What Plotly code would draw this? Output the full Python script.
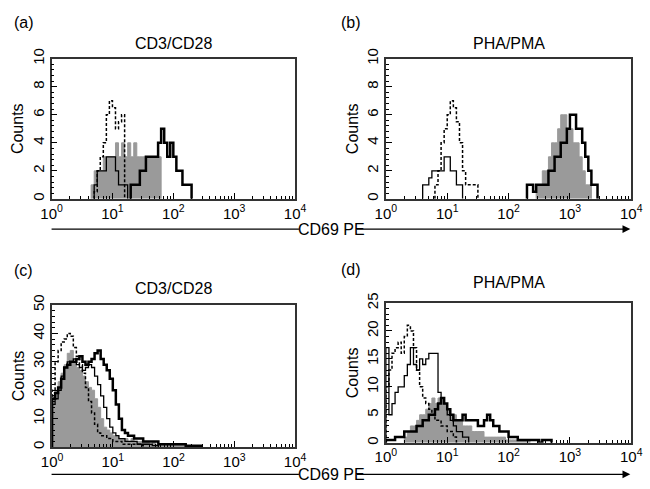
import plotly.graph_objects as go

W, H = 650, 489
BIN = 0.05  # width of one channel in log10 units

# ---------------- data (counts per channel, starting at log10 position) -------------
# panel (a) CD3/CD28
a_gray_start = 0.65
a_gray = [1, 2, 2, 2, 3, 3, 3, 3, 4, 3, 4, 3, 4, 3, 4, 3, 3, 3, 3, 3, 3, 3, 3, 0]
a_dash_start = 0.70
a_dash = [0.5, 2, 3, 4, 6, 7, 6.5, 5, 5.5, 6, 0]
a_thin_start = 0.70
a_thin = [1, 2, 2, 2, 3, 3, 3, 2, 1, 1, 1, 0]
a_thick_start = 1.30
a_thick = [1, 1, 1, 2, 2, 3, 3, 3, 3, 4, 5, 4, 3, 4, 3, 2, 2, 1, 1, 1, 0]

# panel (b) PHA/PMA
b_thin_start = 0.60
b_thin = [1, 1, 1.5, 2, 2, 2, 2, 3, 3, 2, 2, 1, 1, 0]
b_dash_start = 0.80
b_dash = [1, 2, 4, 5, 6, 7, 6.5, 5.5, 4, 2, 1, 1, 1, 1, 0]
b_gray_start = 2.45
b_gray = [1, 1, 2, 2, 3, 4, 4, 5, 6, 6, 5, 5, 4, 4, 3, 2, 1, 1, 0]
b_thick_start = 2.30
b_thick = [1, 1, 0.5, 1, 1, 1, 1, 2, 2, 3, 3, 4, 4, 5, 6, 6, 5, 5, 4, 3, 2, 1, 1, 0]

# panel (c) CD3/CD28
c_gray_start = 0.0
c_gray = [18, 20, 23, 26, 29, 33, 34, 30, 28, 27, 25, 23, 21, 20, 17, 14, 10, 7, 6, 5,
          4, 4, 3, 3, 3, 2, 3, 2, 2, 2, 2, 2, 1, 2, 1, 1, 1, 1, 1, 1, 1, 1, 1,
          0.5, 0.5, 0.5, 0.5, 0.5, 0]
c_dash_start = 0.0
c_dash = [20, 30, 34, 37, 38, 40, 39, 35, 32, 29, 26, 21, 16, 12, 8, 5, 4, 4, 3, 3,
          2, 2, 2, 1, 1, 1, 1, 1, 1, 0.5, 0]
c_thin_start = 0.0
c_thin = [15, 17, 20, 25, 28, 30, 30, 31, 29, 28, 27, 28, 29, 28, 25, 22, 18, 14, 10, 7,
          5, 4, 3, 3, 2, 2, 2, 2, 1, 1, 1, 1, 1, 0.5, 0.5, 0]
c_thick_start = 0.0
c_thick = [17, 19, 21, 24, 28, 29, 30, 30, 31, 32, 30, 29, 30, 31, 33, 34, 31, 29, 27, 24,
           20, 15, 10, 6, 5, 4, 4, 3, 3, 3, 2, 2, 2, 2, 2, 1, 1, 1, 1, 1, 1, 1, 1, 1,
           0.5, 0.5, 0.5, 0.5, 0.5, 0]

# panel (d) PHA/PMA
d_gray_start = 0.30
d_gray = [1, 2, 3, 3, 4, 5, 5, 6, 7, 8, 7, 8, 8, 7, 6, 5, 5, 4, 4, 3, 3, 3, 2, 2, 2, 2,
          1, 1, 1, 1, 1, 1, 1, 0.5, 0.5, 0.5, 0.5, 0.5, 0.5, 0.5, 0.5, 0]
d_dash_start = 0.0
d_dash = [10, 13, 16, 17, 18, 16, 19, 21, 20, 17, 13, 10, 8, 7, 6, 5, 4, 4, 3, 3, 2, 2, 1, 0]
d_thin_start = 0.0
d_thin = [17, 5, 7, 9, 10, 10, 12, 14, 17, 14, 13, 15, 14, 15, 16, 16, 16, 9, 8, 7, 5, 4,
          3, 2, 2, 1, 1, 0]
d_thick_start = 0.0
d_thick = [0.5, 0.5, 0.5, 1, 1, 1, 2, 2, 2, 2, 3, 3, 4, 4, 5, 5, 6, 7, 8, 7, 6, 5, 4, 4, 4,
           5, 4, 4, 4, 4, 3, 3, 4, 5, 4, 3, 3, 2, 2, 2, 1, 1, 1, 0.5, 0.5, 0.5, 0.5, 0.5,
           0.5, 0.5, 0, 0.5, 0.5, 0.5, 0]

panel_titles = ["CD3/CD28", "PHA/PMA", "CD3/CD28", "PHA/PMA"]
panel_letters = ["(a)", "(b)", "(c)", "(d)"]
y_max = [10, 10, 50, 25]
y_step = [2, 2, 10, 5]
x_tick_vals = [1, 10, 100, 1000, 10000]
x_tick_text = ["10<sup>0</sup>", "10<sup>1</sup>", "10<sup>2</sup>", "10<sup>3</sup>", "10<sup>4</sup>"]
x_axis_title = "CD69 PE"
y_axis_title = "Counts"

FONT = "Liberation Sans, Arial, Helvetica, sans-serif"
GRAY = "#9a9a9a"


def px_x(v):
    return v / W


def px_y(v):
    return 1 - v / H


def steps(start, counts):
    xs = [10 ** (start + BIN * i) for i in range(len(counts))]
    return [xs[0]] + xs, [0] + list(counts)


fig = go.Figure()

panels = [
    ("x", "y", (a_gray_start, a_gray), (a_dash_start, a_dash), (a_thin_start, a_thin), (a_thick_start, a_thick)),
    ("x2", "y2", (b_gray_start, b_gray), (b_dash_start, b_dash), (b_thin_start, b_thin), (b_thick_start, b_thick)),
    ("x3", "y3", (c_gray_start, c_gray), (c_dash_start, c_dash), (c_thin_start, c_thin), (c_thick_start, c_thick)),
    ("x4", "y4", (d_gray_start, d_gray), (d_dash_start, d_dash), (d_thin_start, d_thin), (d_thick_start, d_thick)),
]

for xa, ya, gray, dash, thin, thick in panels:
    gx, gy = steps(*gray)
    fig.add_trace(go.Scatter(x=gx, y=gy, xaxis=xa, yaxis=ya, mode="lines", line_shape="hv",
                             line=dict(color=GRAY, width=1), fill="tozeroy", fillcolor=GRAY,
                             showlegend=False, hoverinfo="skip"))
    dx, dy = steps(*dash)
    fig.add_trace(go.Scatter(x=dx, y=dy, xaxis=xa, yaxis=ya, mode="lines", line_shape="hv",
                             line=dict(color="black", width=1.5, dash="3px,2px"),
                             showlegend=False, hoverinfo="skip"))
    tx, ty = steps(*thin)
    fig.add_trace(go.Scatter(x=tx, y=ty, xaxis=xa, yaxis=ya, mode="lines", line_shape="hv",
                             line=dict(color="black", width=1.3),
                             showlegend=False, hoverinfo="skip"))
    kx, ky = steps(*thick)
    fig.add_trace(go.Scatter(x=kx, y=ky, xaxis=xa, yaxis=ya, mode="lines", line_shape="hv",
                             line=dict(color="black", width=2.5),
                             showlegend=False, hoverinfo="skip"))

# plot areas in pixels: (left, right, top, bottom)
boxes = [(42, 294, 49, 193), (388, 642, 49, 193), (42.5, 294, 302, 448), (388, 642, 300, 443.5)]
minor_x = [k * 10 ** n for n in range(4) for k in range(2, 10)]

layout = dict(width=W, height=H, margin=dict(l=0, r=0, t=0, b=0),
              plot_bgcolor="white", paper_bgcolor="white",
              font=dict(family=FONT, color="black"))
annotations = []
shapes = []
for i, (l, r, t, b) in enumerate(boxes):
    sfx = "" if i == 0 else str(i + 1)
    layout["xaxis" + sfx] = dict(
        type="log", range=[0, 4], domain=[px_x(l), px_x(r)], anchor="y" + sfx,
        tickmode="array", tickvals=x_tick_vals, ticktext=x_tick_text,
        ticks="inside", ticklen=6, tickwidth=1.2, tickcolor="black",
        minor=dict(ticks="inside", ticklen=3, tickwidth=1, tickcolor="black",
                   tickmode="array", tickvals=minor_x),
        showline=True, linecolor="#333", linewidth=1.5, mirror=True,
        showgrid=False, zeroline=False, tickfont=dict(size=15, family=FONT),
    )
    layout["yaxis" + sfx] = dict(
        range=[0, y_max[i]], domain=[px_y(b), px_y(t)], anchor="x" + sfx,
        dtick=y_step[i], tick0=0, ticks="inside", ticklen=6, tickwidth=1.2, tickcolor="black",
        minor=dict(ticks="inside", ticklen=3, tickwidth=1, tickcolor="black",
                   dtick=y_step[i] / 5),
        showline=True, linecolor="#333", linewidth=1.5, mirror=True,
        showgrid=False, zeroline=False, tickangle=-90, tickfont=dict(size=15, family=FONT),
        title=dict(text=y_axis_title, font=dict(size=16, family=FONT), standoff=2),
    )
    # panel title
    title_y = [33, 33, 285, 279][i]
    annotations.append(dict(text=panel_titles[i], x=px_x((l + r) / 2), y=px_y(title_y),
                            xref="paper", yref="paper", showarrow=False,
                            xanchor="center", yanchor="middle", font=dict(size=16, family=FONT)))
    # panel letter
    lx = [13, 352, 13, 352][i]
    ly = [12, 12, 267, 266][i]
    annotations.append(dict(text=panel_letters[i], x=px_x(lx), y=px_y(ly),
                            xref="paper", yref="paper", showarrow=False,
                            xanchor="center", yanchor="middle", font=dict(size=16, family=FONT)))

# shared x axis title with arrow, one per row
for row_y in (224, 476):
    shapes.append(dict(type="line", xref="paper", yref="paper",
                       x0=px_x(42), x1=px_x(298), y0=px_y(row_y), y1=px_y(row_y),
                       line=dict(color="black", width=1.2)))
    annotations.append(dict(text="", x=px_x(641), y=px_y(row_y), xref="paper", yref="paper",
                            showarrow=True, ax=-(641 - 366), ay=0, axref="pixel", ayref="pixel",
                            arrowhead=2, arrowsize=1.3, arrowwidth=1.2, arrowcolor="black", standoff=0))
    annotations.append(dict(text=x_axis_title, x=px_x(332), y=px_y(row_y), xref="paper", yref="paper",
                            showarrow=False, xanchor="center", yanchor="middle",
                            font=dict(size=16, family=FONT)))

layout["annotations"] = annotations
layout["shapes"] = shapes
fig.update_layout(**layout)
fig.write_html("out.html", config={"displayModeBar": False},
               post_script="document.body.style.margin='0px';")
